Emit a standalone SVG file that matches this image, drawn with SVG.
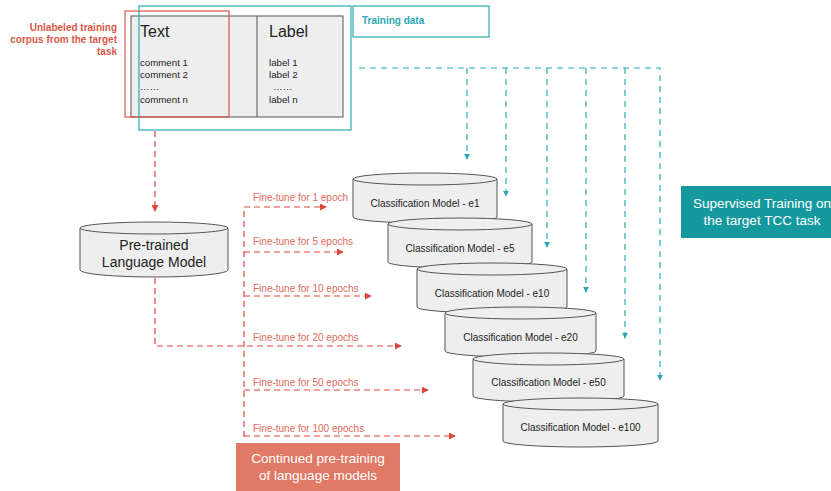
<svg xmlns="http://www.w3.org/2000/svg" width="831" height="491" viewBox="0 0 831 491">
<style>
text{font-family:"Liberation Sans",Arial,sans-serif;}
.cyl{fill:#eeeeee;stroke:#555555;stroke-width:1;}
.ct{font-size:10px;fill:#222;text-anchor:middle;}
.red{stroke:#e0453a;stroke-width:1.2;stroke-dasharray:6 4;fill:none;}
.teal{stroke:#2aa9b2;stroke-width:1.2;stroke-dasharray:6 5;fill:none;}
.ft{font-size:10px;fill:#e06a5e;}
</style>
<defs>
<marker id="ar" viewBox="0 0 8 8" refX="7" refY="4" markerWidth="7" markerHeight="7" markerUnits="userSpaceOnUse" orient="auto"><path d="M0,0 L8,4 L0,8 z" fill="#e0453a"/></marker>
<marker id="at" viewBox="0 0 8 8" refX="7" refY="4" markerWidth="6" markerHeight="6" markerUnits="userSpaceOnUse" orient="auto"><path d="M0,0 L8,4 L0,8 z" fill="#2aa9b2"/></marker>
</defs>
<rect width="831" height="491" fill="#ffffff"/>

<g id="table">
<rect x="131" y="16" width="212" height="101" fill="#eeeeee" stroke="#555" stroke-width="1"/>
<line x1="257" y1="16" x2="257" y2="117" stroke="#555" stroke-width="1"/>
<text x="140" y="37" font-size="16" fill="#222">Text</text>
<text x="269" y="37" font-size="16" fill="#222">Label</text>
<g font-size="9.7" fill="#222">
<text x="140" y="66">comment 1</text>
<text x="140" y="78">comment 2</text>
<text x="140" y="90">……</text>
<text x="140" y="103">comment n</text>
<text x="269" y="66">label 1</text>
<text x="269" y="78">label 2</text>
<text x="273" y="90">……</text>
<text x="269" y="103">label n</text>
</g>
</g>
<g id="corpus">
<rect x="125" y="11" width="104" height="106" fill="none" stroke="#d9534f" stroke-width="1.2"/>
<g font-size="10" font-weight="bold" fill="#d9584a" text-anchor="end">
<text x="117" y="31">Unlabeled training</text>
<text x="117" y="43">corpus from the target</text>
<text x="117" y="55">task</text>
</g>
</g>
<g id="training-data">
<rect x="139" y="6" width="212" height="124" fill="none" stroke="#2aa9b2" stroke-width="1.2"/>
<rect x="353" y="6" width="136" height="31" fill="#fff" stroke="#2aa9b2" stroke-width="1.2"/>
<text x="362" y="24" font-size="10" font-weight="bold" fill="#2aa9b2">Training data</text>
</g>

<g id="plm">
<path class="cyl" d="M80,228 L80,270 A74,7 0 0 0 228,270 L228,228"/>
<ellipse class="cyl" cx="154" cy="228" rx="74" ry="6"/>
<text x="154" y="250" font-size="14" text-anchor="middle" fill="#222">Pre-trained</text>
<text x="154" y="267" font-size="14" text-anchor="middle" fill="#222">Language Model</text>
</g>

<g id="cm-e1">
<path class="cyl" d="M353,179 L353,217 A72,6 0 0 0 497,217 L497,179"/>
<ellipse class="cyl" cx="425" cy="179" rx="72" ry="6"/>
<text class="ct" x="425" y="207">Classification Model - e1</text>
</g>
<g id="cm-e5">
<path class="cyl" d="M388,224 L388,262 A72,6 0 0 0 532,262 L532,224"/>
<ellipse class="cyl" cx="460" cy="224" rx="72" ry="6"/>
<text class="ct" x="460" y="252">Classification Model - e5</text>
</g>
<g id="cm-e10">
<path class="cyl" d="M417,269 L417,307 A75,6 0 0 0 567,307 L567,269"/>
<ellipse class="cyl" cx="492" cy="269" rx="75" ry="6"/>
<text class="ct" x="492" y="297">Classification Model - e10</text>
</g>
<g id="cm-e20">
<path class="cyl" d="M445,313 L445,351 A75.5,6 0 0 0 596,351 L596,313"/>
<ellipse class="cyl" cx="520.5" cy="313" rx="75.5" ry="6"/>
<text class="ct" x="520.5" y="341">Classification Model - e20</text>
</g>
<g id="cm-e50">
<path class="cyl" d="M473,359 L473,396 A75.5,6 0 0 0 624,396 L624,359"/>
<ellipse class="cyl" cx="548.5" cy="359" rx="75.5" ry="6"/>
<text class="ct" x="548.5" y="386">Classification Model - e50</text>
</g>
<g id="cm-e100">
<path class="cyl" d="M503,404 L503,441 A77.5,6 0 0 0 658,441 L658,404"/>
<ellipse class="cyl" cx="580.5" cy="404" rx="77.5" ry="6"/>
<text class="ct" x="580.5" y="431">Classification Model - e100</text>
</g>

<g id="supervised">
<rect x="681" y="186" width="160" height="52" fill="#15999f"/>
<text x="762" y="208" font-size="13.5" fill="#fff" text-anchor="middle">Supervised Training on</text>
<text x="762" y="225" font-size="13.5" fill="#fff" text-anchor="middle">the target TCC task</text>
</g>
<g id="continued">
<rect x="236" y="443" width="164" height="48" fill="#e07a66"/>
<text x="318" y="463" font-size="13.5" fill="#fff" text-anchor="middle">Continued pre-training</text>
<text x="318" y="480" font-size="13.5" fill="#fff" text-anchor="middle">of language models</text>
</g>

<g id="connectors">
<path class="red" d="M155,131 L155,211" marker-end="url(#ar)"/>
<path class="red" d="M155,278 L155,346 L401,346" marker-end="url(#ar)"/>
<path class="red" d="M244,437 L244,207 L326,207" marker-end="url(#ar)"/>
<path class="red" d="M244,252 L343,252" marker-end="url(#ar)"/>
<path class="red" d="M244,296 L371,296" marker-end="url(#ar)"/>
<path class="red" d="M244,390 L428,390" marker-end="url(#ar)"/>
<path class="red" d="M244,436 L455,436" marker-end="url(#ar)"/>
<path class="teal" d="M359,68 L660,68 L660,380" marker-end="url(#at)"/>
<path class="teal" d="M467,68 L467,159" marker-end="url(#at)"/>
<path class="teal" d="M506,68 L506,196" marker-end="url(#at)"/>
<path class="teal" d="M547,68 L547,247" marker-end="url(#at)"/>
<path class="teal" d="M586,68 L586,292" marker-end="url(#at)"/>
<path class="teal" d="M625,68 L625,338" marker-end="url(#at)"/>
</g>
<g id="labels">
<text class="ft" x="253" y="201">Fine-tune for 1 epoch</text>
<text class="ft" x="253" y="245">Fine-tune for 5 epochs</text>
<text class="ft" x="253" y="292">Fine-tune for 10 epochs</text>
<text class="ft" x="253" y="341">Fine-tune for 20 epochs</text>
<text class="ft" x="253" y="386">Fine-tune for 50 epochs</text>
<text class="ft" x="253" y="432">Fine-tune for 100 epochs</text>
</g>
</svg>
